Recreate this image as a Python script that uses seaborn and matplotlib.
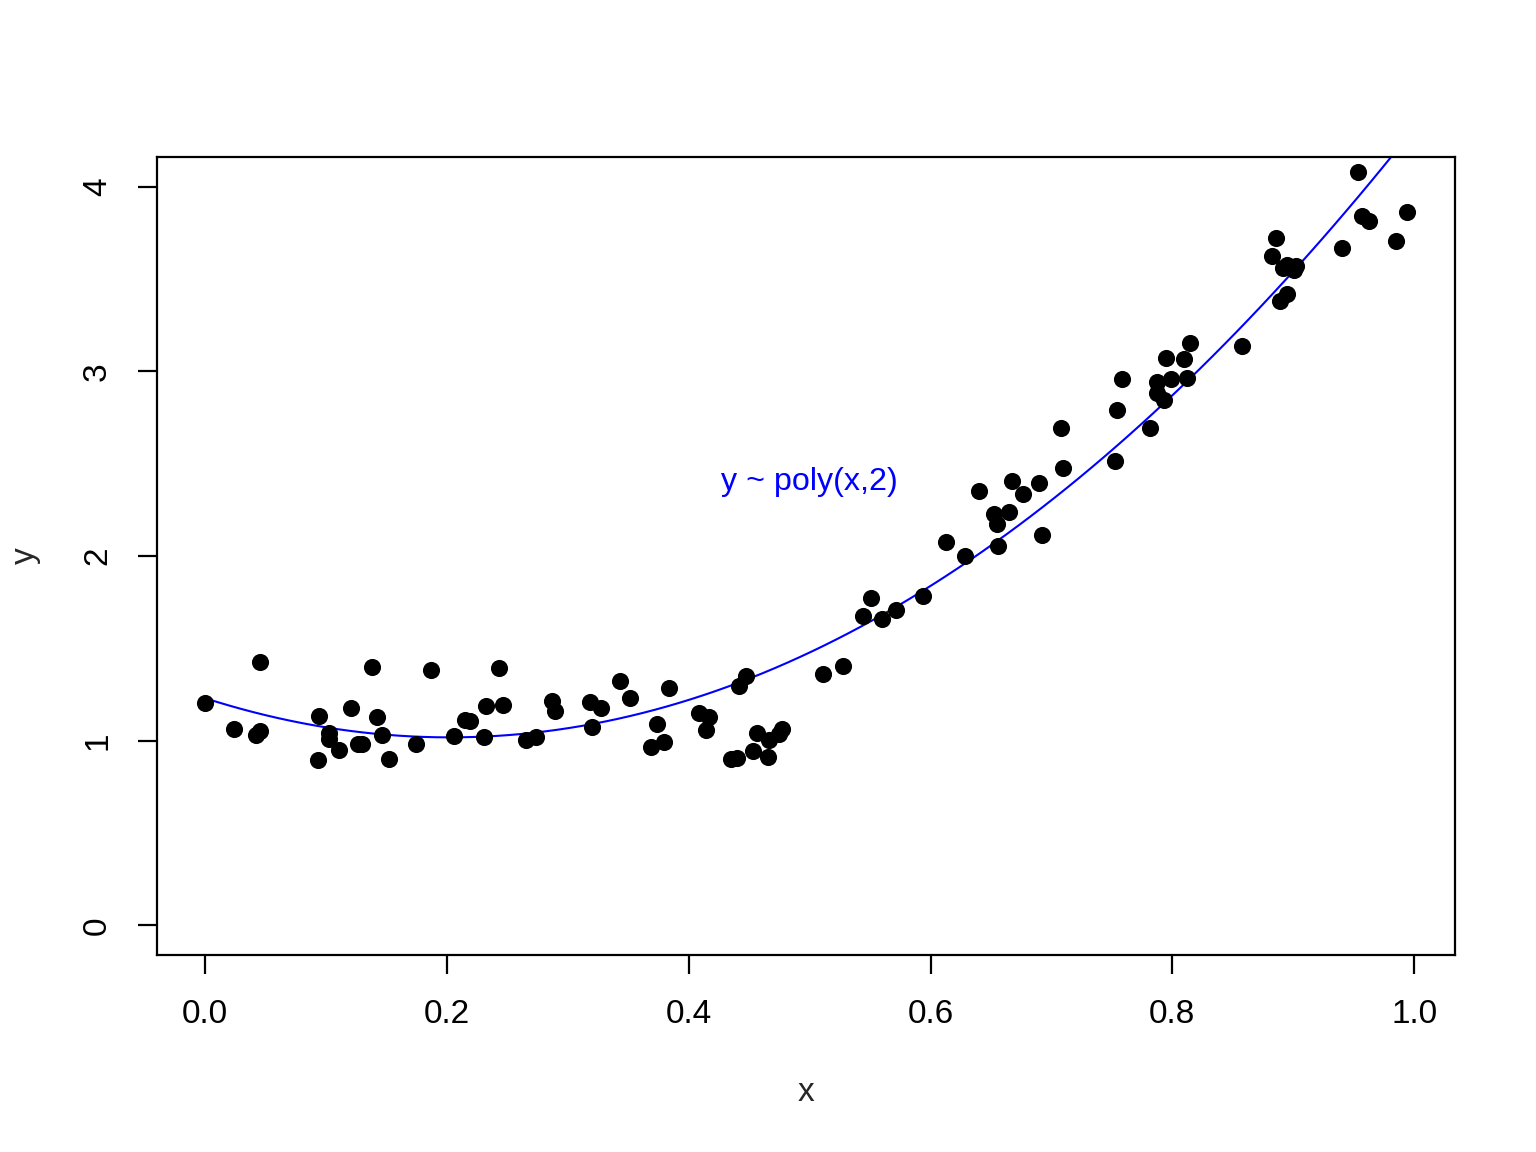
#!/usr/bin/env python3
import numpy as np
import pandas as pd
import seaborn as sns
import matplotlib.pyplot as plt

# points
x = [0.000, 0.024, 0.042, 0.045, 0.0455, 0.0935, 0.094, 0.1026, 0.1026, 0.111,
     0.121, 0.1266, 0.130, 0.138, 0.142, 0.146, 0.152, 0.1745, 0.187, 0.206,
     0.215, 0.219, 0.231, 0.232, 0.243, 0.246, 0.265, 0.274, 0.287, 0.289,
     0.318, 0.320, 0.3275, 0.343, 0.3515, 0.369, 0.374, 0.3797, 0.3838, 0.4086,
     0.4144, 0.417, 0.435, 0.440, 0.4417, 0.4475, 0.453, 0.4566, 0.4657, 0.4665,
     0.4748, 0.477, 0.511, 0.5277, 0.544, 0.551, 0.560, 0.5715, 0.5939, 0.6129,
     0.6286, 0.640, 0.6526, 0.655, 0.656, 0.665, 0.6675, 0.6766, 0.6898, 0.692,
     0.708, 0.7097, 0.7527, 0.7543, 0.7585, 0.7816, 0.7874, 0.7874, 0.7932, 0.7949,
     0.799, 0.8098, 0.8122, 0.8147, 0.8577, 0.8825, 0.8859, 0.8892, 0.8917, 0.895,
     0.895, 0.9007, 0.9024, 0.9404, 0.9537, 0.957, 0.9628, 0.985, 0.9942]
y = [1.205, 1.065, 1.032, 1.054, 1.427, 0.897, 1.135, 1.043, 1.011, 0.951,
     1.178, 0.984, 0.984, 1.400, 1.130, 1.032, 0.903, 0.984, 1.384, 1.027,
     1.114, 1.108, 1.022, 1.189, 1.395, 1.195, 1.005, 1.022, 1.216, 1.162,
     1.211, 1.076, 1.178, 1.324, 1.232, 0.968, 1.092, 0.995, 1.286, 1.151,
     1.059, 1.130, 0.903, 0.908, 1.297, 1.351, 0.946, 1.043, 0.914, 1.005,
     1.038, 1.065, 1.362, 1.405, 1.676, 1.773, 1.659, 1.708, 1.784, 2.076,
     2.000, 2.351, 2.227, 2.173, 2.054, 2.238, 2.405, 2.335, 2.395, 2.114,
     2.692, 2.476, 2.514, 2.789, 2.957, 2.692, 2.941, 2.881, 2.843, 3.070,
     2.957, 3.065, 2.962, 3.151, 3.135, 3.622, 3.719, 3.378, 3.557, 3.416,
     3.578, 3.551, 3.568, 3.670, 4.081, 3.843, 3.816, 3.703, 3.865]

xticks = [0.0, 0.2, 0.4, 0.6, 0.8, 1.0]
yticks = [0, 1, 2, 3, 4]
label_text = "y ~ poly(x,2)"

df = pd.DataFrame({'x': x, 'y': y})

sns.set_style("ticks")
plt.rcParams['font.family'] = ['Liberation Sans', 'DejaVu Sans']
plt.rcParams['font.size'] = 12

fig = plt.figure(figsize=(7.68, 5.76), dpi=200)
ax = fig.add_axes([0.1022, 0.171, 0.8451, 0.6927])

sns.scatterplot(data=df, x='x', y='y', color='black', s=38, linewidth=0, ax=ax, zorder=3)
# quadratic fit, same as lm(y ~ poly(x,2))
sns.regplot(data=df, x='x', y='y', order=2, ci=None, scatter=False, ax=ax,
            line_kws={'color': 'blue', 'linewidth': 0.75})

ax.text(0.5, 2.4, label_text, color='blue', fontsize=11.6, ha='center', va='center')

ax.set_xlim(-0.0398, 1.0338)
ax.set_ylim(-0.16, 4.16)
ax.set_xticks(xticks)
ax.set_xticklabels([f"{t:.1f}" for t in xticks])
ax.set_yticks(yticks)
ax.set_yticklabels([str(t) for t in yticks], rotation=90, va='center')
ax.tick_params(direction='out', length=6.8, width=0.8, pad=9, labelsize=12, colors='black')
for s in ax.spines.values():
    s.set_visible(True)
    s.set_linewidth(0.8)
    s.set_color('black')

ax.set_xlabel('x', fontsize=12, labelpad=17)
ax.set_ylabel('y', fontsize=12, labelpad=15)

plt.savefig('out.png', dpi=200)
plt.close()
